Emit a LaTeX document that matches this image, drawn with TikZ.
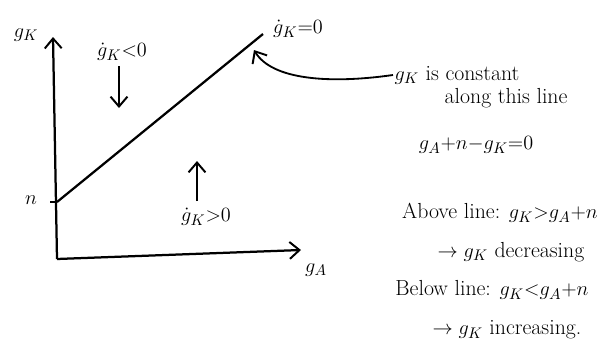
\documentclass[tikz,border=0pt]{standalone}
\usepackage{amsmath}
\usepackage{tikz}
\usetikzlibrary{arrows.meta}

\begin{document}
\begin{tikzpicture}[x=0.025cm,y=-0.025cm,font=\fontsize{15.5}{18}\selectfont,
  >={Straight Barb[length=7pt,width=12pt,line width=1.4pt]},
  axis/.style={line width=1.6pt,->},
  hint/.style={line width=1.3pt,->},
  lbl/.style={inner sep=1pt,align=center}]
  \useasboundingbox (0,0) rectangle (614,349);
  % axes
  \coordinate (O) at (57,259);
  \coordinate (ytop) at (53,37);
  \coordinate (xend) at (301,250);
  \draw[axis] (O) -- (ytop);
  \draw[axis] (O) -- (xend);
  \node[lbl] (gK) at (26,35) {$g_K$};
  \node[lbl] (gA) at (316,270) {$g_A$};
  % steady state line
  \coordinate (n0) at (57,202);
  \coordinate (top) at (263,34);
  \draw[line width=1.6pt] (n0) -- (top);
  \draw[line width=1.3pt] (50,202) -- (n0);
  \node[lbl] (n) at (31,200) {$n$};
  \node[lbl] (zero) at (298,29) {$\dot{g}_K{=}0$};
  % motion in each region
  \node[lbl] (neg) at (122,52) {$\dot{g}_K{<}0$};
  \coordinate (dn1) at (119,66);
  \coordinate (dn2) at (119,108);
  \draw[hint] (dn1) -- (dn2);
  \coordinate (up1) at (197,201);
  \coordinate (up2) at (197,161);
  \draw[hint] (up1) -- (up2);
  \node[lbl] (pos) at (206,217) {$\dot{g}_K{>}0$};
  % notes
  \node[lbl,anchor=west] (note1) at (393,75) {$g_K$ is constant};
  \node[lbl,anchor=west] (note2) at (443,98) {along this line};
  \node[lbl] (eq) at (476,145) {$g_A{+}n{-}g_K{=}0$};
  \coordinate (tip) at (254,50);
  \draw[hint] (note1.west) .. controls (330,84) and (272,80) .. (tip);
  \node[lbl] (above) at (500,213) {Above line: $g_K{>}g_A{+}n$};
  \node[lbl] (dec) at (511,252) {$\rightarrow g_K$ decreasing};
  \node[lbl] (below) at (492,290) {Below line: $g_K{<}g_A{+}n$};
  \node[lbl] (inc) at (507,330) {$\rightarrow g_K$ increasing.};
\end{tikzpicture}
\end{document}
